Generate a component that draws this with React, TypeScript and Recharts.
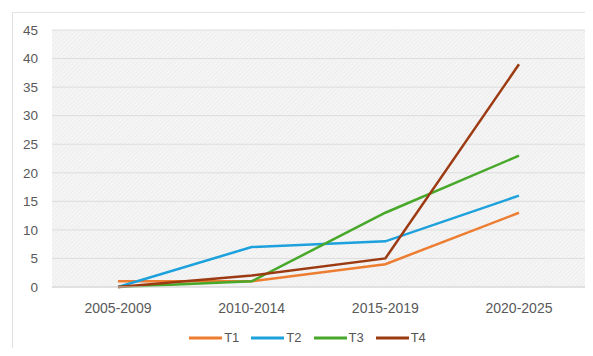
import React from 'react'
import { LineChart, Line, XAxis, YAxis, CartesianGrid, Legend } from 'recharts'

const periods = ['2005-2009', '2010-2014', '2015-2019', '2020-2025']
const t1 = [1, 1, 4, 13]
const t2 = [0, 7, 8, 16]
const t3 = [0, 1, 13, 23]
const t4 = [0, 2, 5, 39]
const yTicks = [0, 5, 10, 15, 20, 25, 30, 35, 40, 45]

const series = [
  { key: 'T1', color: '#ED7D31' },
  { key: 'T2', color: '#1DA1DC' },
  { key: 'T3', color: '#47A82A' },
  { key: 'T4', color: '#9C3A12' }
]

const data = periods.map((p, i) => ({ name: p, T1: t1[i], T2: t2[i], T3: t3[i], T4: t4[i] }))

const font = '"Liberation Sans", Arial, sans-serif'

function LegendRow() {
  return (
    <div style={{ display: 'flex', justifyContent: 'center', gap: 12, paddingLeft: 30, fontFamily: font, fontSize: 13, color: '#555' }}>
      {series.map(s => (
        <div key={s.key} style={{ display: 'flex', alignItems: 'center' }}>
          <svg width={33} height={10}>
            <line x1={0} y1={5} x2={33} y2={5} stroke={s.color} strokeWidth={3} />
          </svg>
          <span style={{ marginLeft: 2 }}>{s.key}</span>
        </div>
      ))}
    </div>
  )
}

export default function App() {
  return (
    <div style={{ position: 'relative', margin: -8, width: 593, height: 356, background: '#fff', overflow: 'hidden' }}>
      <div style={{ position: 'absolute', left: 12, top: 12, width: 600, height: 360, borderTop: '1px solid #e2e2e2', borderLeft: '1px solid #e2e2e2' }} />
      <LineChart width={593} height={356} data={data} margin={{ top: 30, right: 8, bottom: 11, left: 0 }} style={{ position: 'absolute', left: 0, top: 0 }}>
        <defs>
          <pattern id="hatch" width="3" height="3" patternUnits="userSpaceOnUse" patternTransform="rotate(45)">
            <rect width="3" height="3" fill="#f5f5f5" />
            <line x1="0" y1="0" x2="0" y2="3" stroke="#e9e9e9" strokeWidth="1.2" />
          </pattern>
        </defs>
        <CartesianGrid vertical={false} stroke="#dddddd" fill="url(#hatch)" />
        <XAxis dataKey="name" axisLine={{ stroke: '#d6d6d6' }} tickLine={false} tickMargin={10} height={43}
          padding={{ left: 66, right: 66 }}
          tick={{ fill: '#595959', fontSize: 14, fontFamily: font }} />
        <YAxis domain={[0, 45]} ticks={yTicks} axisLine={false} tickLine={false} width={52} tickMargin={8}
          tick={{ fill: '#595959', fontSize: 13.5, fontFamily: font }} />
        <Legend verticalAlign="bottom" content={() => <LegendRow />} />
        {series.map(s => (
          <Line key={s.key} type="linear" dataKey={s.key} stroke={s.color} strokeWidth={2.5} dot={false} isAnimationActive={false} />
        ))}
      </LineChart>
    </div>
  )
}
